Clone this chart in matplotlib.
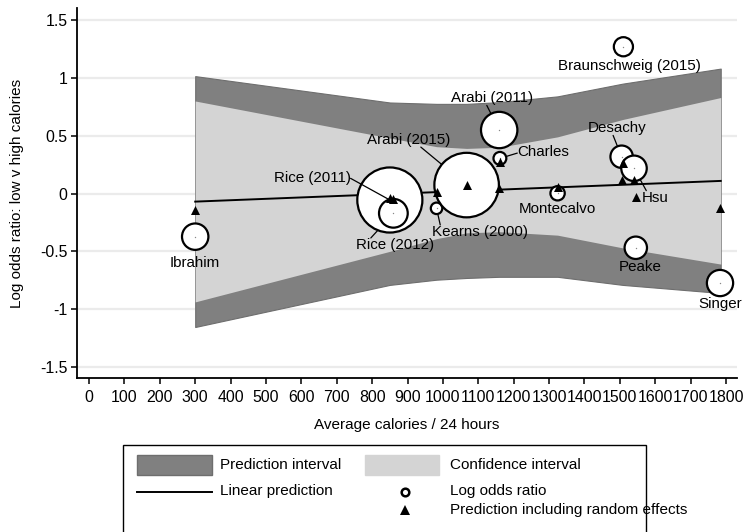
import matplotlib
matplotlib.use("Agg")
import matplotlib.pyplot as plt
from matplotlib.patches import Rectangle
from matplotlib.lines import Line2D

plt.rcParams["font.family"] = ["Liberation Sans", "DejaVu Sans"]

# ---------- data ----------
studies = ["Ibrahim", "Rice (2011)", "Rice (2012)", "Kearns (2000)", "Arabi (2015)",
           "Arabi (2011)", "Charles", "Montecalvo", "Desachy", "Braunschweig (2015)",
           "Hsu", "Peake", "Singer"]
calories = [300, 850, 860, 982, 1067, 1159, 1161, 1324, 1505, 1510, 1540, 1545, 1783]
log_or = [-0.373, -0.056, -0.171, -0.128, 0.073, 0.549, 0.304, 0.002, 0.318, 1.269,
          0.218, -0.469, -0.774]
weight = [190, 1156, 225, 36, 1136, 361, 45, 56, 137, 100, 177, 137, 188]
blup = [-0.143, -0.035, -0.05, 0.014, 0.072, 0.045, 0.27, 0.058, 0.121, 0.265,
        0.121, -0.029, -0.125]

fit_x = [300, 1785]
fit_y = [-0.07, 0.109]

band_x = [300, 850, 982, 1067, 1159, 1324, 1508, 1785]
ci_hi = [0.80, 0.48, 0.405, 0.39, 0.40, 0.49, 0.64, 0.83]
ci_lo = [-0.937, -0.50, -0.39, -0.34, -0.33, -0.36, -0.47, -0.61]
pi_hi = [1.015, 0.787, 0.775, 0.775, 0.79, 0.84, 0.95, 1.08]
pi_lo = [-1.154, -0.79, -0.745, -0.73, -0.72, -0.72, -0.79, -0.86]

xticks = list(range(0, 1900, 100))
yticks = [-1.5, -1, -0.5, 0, 0.5, 1, 1.5]
ytick_labels = ["-1.5", "-1", "-0.5", "0", "0.5", "1", "1.5"]

# ---------- style ----------
DARK = "#808080"
LIGHT = "#D4D4D4"
FS = 11
W, H = 745, 532

fig = plt.figure(figsize=(W / 100, H / 100), dpi=100)
ax = fig.add_axes([77 / W, (H - 378) / H, (737 - 77) / W, (378 - 8) / H])
ax.set_xlim(-34, 1831)
ax.set_ylim(-1.595, 1.604)

ax.fill_between(band_x, pi_lo, pi_hi, color=DARK, ec="#6E6E6E", lw=0.8, zorder=1)
ax.fill_between(band_x, ci_lo, ci_hi, color=LIGHT, lw=0, zorder=1.5)
ax.plot(fit_x, fit_y, color="black", lw=1.4, zorder=2)

# label placement: (dx, dy in points, relpos of leader line or None)
layout = {
    "Ibrahim": (0, -19, None),
    "Rice (2011)": (-56, 15.6, (1, 0.5)),
    "Rice (2012)": (1.2, -22.8, (0.19, 1)),
    "Kearns (2000)": (31, -17, (0.09, 1)),
    "Arabi (2015)": (-42, 32.4, (0.65, 0)),
    "Arabi (2011)": (-4.8, 22.8, (0.43, 0)),
    "Charles": (31.2, 4.8, (0, 0.4)),
    "Montecalvo": (0, -11.5, None),
    "Desachy": (-3.6, 20.4, (0.44, 0)),
    "Braunschweig (2015)": (4, -13.7, None),
    "Hsu": (15.6, -21.1, (0.15, 1)),
    "Peake": (3, -13.7, None),
    "Singer": (0, -15, None),
}
for name, x, y in zip(studies, calories, log_or):
    dx, dy, rp = layout[name]
    kw = {}
    if rp is not None:
        kw["arrowprops"] = dict(arrowstyle="-", color="black", lw=0.9, shrinkA=0,
                                shrinkB=0, relpos=rp, patchA=None)
    ax.annotate(name, xy=(x, y), xytext=(dx, dy), textcoords="offset points",
                ha="center", va="center", fontsize=10.9,
                zorder=5 if name == "Rice (2011)" else 3, **kw)

sizes = [w * 1.9 for w in weight]
ax.scatter(calories, log_or, s=sizes, facecolor="white", edgecolor="black",
           linewidth=1.6, zorder=4)
ax.scatter(calories, log_or, s=1, color="#888888", zorder=4.5, lw=0)
ax.scatter(calories, blup, marker="^", s=42, color="black", lw=0, zorder=6)

# axes
for s in ["top", "right"]:
    ax.spines[s].set_visible(False)
for s in ["left", "bottom"]:
    ax.spines[s].set_linewidth(1.3)
ax.set_xticks(xticks)
ax.set_yticks(yticks)
ax.set_yticklabels(ytick_labels)
ax.tick_params(axis="both", direction="out", length=4.5, width=1.1, labelsize=11.4)
ax.tick_params(axis="x", pad=4)
ax.tick_params(axis="y", pad=2.5)
ax.yaxis.grid(True, color="#EBEBEB", lw=1.6)
ax.set_axisbelow(True)

ax.set_xlabel("Average calories / 24 hours", fontsize=FS)
ax.xaxis.set_label_coords(0.5, -0.127)
ax.xaxis.label.set_va("center")
ax.set_ylabel("Log odds ratio: low v high calories", fontsize=FS)
ax.yaxis.set_label_coords(-0.0908, 0.5)
ax.yaxis.label.set_va("center")


# ---------- legend (drawn in pixel space, box runs off the bottom) ----------
def fx(x):
    return x / W


def fy(y):
    return 1 - y / H


fig.add_artist(Rectangle((fx(123), fy(545)), fx(646) - fx(123), fy(445) - fy(545),
                         facecolor="white", edgecolor="black", lw=1.0,
                         transform=fig.transFigure))
fig.add_artist(Rectangle((fx(137), fy(475)), fx(212) - fx(137), fy(455) - fy(475),
                         facecolor=DARK, edgecolor="#6E6E6E", lw=1.0,
                         transform=fig.transFigure))
fig.add_artist(Rectangle((fx(365), fy(475)), fx(439) - fx(365), fy(455) - fy(475),
                         facecolor=LIGHT, edgecolor=LIGHT, lw=1.0,
                         transform=fig.transFigure))
fig.add_artist(Line2D([fx(137), fx(212)], [fy(491.5), fy(491.5)], color="black",
                      lw=1.4, transform=fig.transFigure))
fig.add_artist(Line2D([fx(405)], [fy(491.5)], marker="o", markersize=5.5,
                      markerfacecolor="white", markeredgecolor="black", mew=1.8,
                      transform=fig.transFigure))
fig.add_artist(Line2D([fx(405)], [fy(510)], marker="^", markersize=6.5,
                      color="black", mew=0, transform=fig.transFigure))
for x, y, t in [(220, 465, "Prediction interval"), (450, 465, "Confidence interval"),
                (220, 491.5, "Linear prediction"), (450, 491.5, "Log odds ratio"),
                (450, 510, "Prediction including random effects")]:
    fig.text(fx(x), fy(y), t, fontsize=FS, ha="left", va="center")

fig.savefig("out.png", dpi=100, facecolor="white")
